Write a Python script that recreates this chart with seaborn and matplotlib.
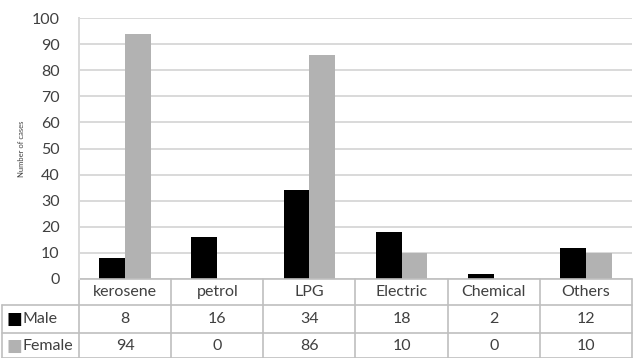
import matplotlib
matplotlib.use("Agg")
import matplotlib.pyplot as plt
import matplotlib.transforms as mtransforms
import seaborn as sns
import pandas as pd

categories = ["kerosene", "petrol", "LPG", "Electric", "Chemical", "Others"]
male = [8, 16, 34, 18, 2, 12]
female = [94, 0, 86, 10, 0, 10]
series = ["Male", "Female"]
colors = {"Male": "#000000", "Female": "#b2b2b2"}
yticks = [0, 10, 20, 30, 40, 50, 60, 70, 80, 90, 100]

df = pd.DataFrame({
    "category": categories * 2,
    "cases": male + female,
    "sex": ["Male"] * len(categories) + ["Female"] * len(categories),
})

sns.set_theme(style="white")
plt.rcParams["font.family"] = ["Lato", "DejaVu Sans"]

W, H = 637, 358
fig = plt.figure(figsize=(W / 100, H / 100), dpi=100)
left, right, top, bottom = 79, 632, 18, 279
ax = fig.add_axes([left / W, 1 - bottom / H, (right - left) / W, (bottom - top) / H])

sns.barplot(data=df, x="category", y="cases", hue="sex", order=categories,
            hue_order=series, palette=colors, width=0.56, gap=0,
            saturation=1, legend=False, ax=ax, linewidth=0)

grid_c = "#d9d9d9"
text_c = "#404040"
line_c = "#bfbfbf"

ax.set_ylim(0, 100)
ax.set_xlim(-0.5, len(categories) - 0.5)
ax.set_yticks(yticks)
ax.set_yticklabels([str(t) for t in yticks], fontsize=11.5, color=text_c)
ax.tick_params(axis="y", length=0, pad=14)
ax.set_xticks([])
ax.set_xlabel("")
ax.set_ylabel("Number of cases", fontsize=5.5, color=text_c, labelpad=5)
ax.yaxis.grid(True, color=grid_c, linewidth=1.4)
ax.set_axisbelow(True)
for s in ["top", "right", "bottom"]:
    ax.spines[s].set_visible(False)
ax.spines["left"].set_color(grid_c)
ax.spines["left"].set_linewidth(1.4)

# data table below the plot
axh = bottom - top
def yf(px):
    return -(px - bottom) / axh

trans = mtransforms.blended_transform_factory(ax.transData, ax.transAxes)
row_y = [yf(279), yf(305), yf(333), yf(358)]
x_left_px = 2
x_left = (x_left_px - left) / (right - left)

# horizontal rules
ax.plot([-0.5, len(categories) - 0.5], [row_y[0]] * 2, transform=trans,
        color=line_c, lw=1.2, clip_on=False)
for yy in row_y[1:]:
    ax.plot([x_left, 1], [yy, yy], transform=ax.transAxes, color=line_c,
            lw=1.2, clip_on=False)
# vertical rules
for i in range(len(categories) + 1):
    ax.plot([i - 0.5, i - 0.5], [row_y[0], row_y[3]], transform=trans,
            color=line_c, lw=1.2, clip_on=False)
ax.plot([x_left, x_left], [row_y[1], row_y[3]], transform=ax.transAxes,
        color=line_c, lw=1.2, clip_on=False)

# header row with category names
for i, c in enumerate(categories):
    ax.text(i, (row_y[0] + row_y[1]) / 2, c, transform=trans, ha="center",
            va="center", fontsize=11.5, color=text_c)

# value rows
for r, (name, vals) in enumerate([("Male", male), ("Female", female)]):
    yc = (row_y[r + 1] + row_y[r + 2]) / 2
    for i, v in enumerate(vals):
        ax.text(i, yc, str(v), transform=trans, ha="center", va="center",
                fontsize=11.5, color=text_c)
    sq_x = (6 - left) / (right - left)
    ax.text(sq_x, yc, "\u25a0", transform=ax.transAxes, ha="left", va="center",
            fontsize=12, color=colors[name], family="DejaVu Sans")
    ax.text((23 - left) / (right - left), yc, name, transform=ax.transAxes,
            ha="left", va="center", fontsize=11.5, color=text_c)

fig.savefig("out.png", dpi=100)
